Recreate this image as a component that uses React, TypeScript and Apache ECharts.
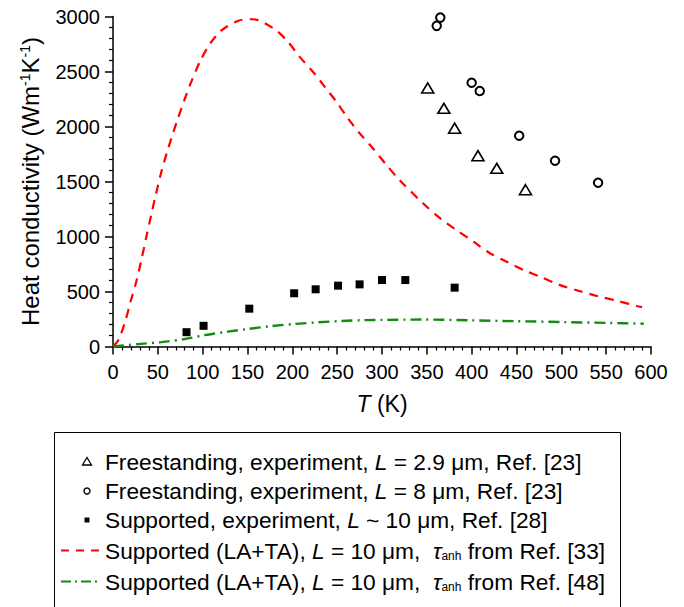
import React, { useEffect, useRef } from "react";
import * as echarts from "echarts";

// ---- Data ----
const triT = [351, 369, 381, 407, 428, 460];
const triK = [2350, 2165, 1985, 1735, 1620, 1425];

const circT = [365, 361, 400, 409, 453, 493, 541];
const circK = [2990, 2915, 2398, 2323, 1916, 1689, 1489];

const sqT = [82, 101, 152, 202, 226, 251, 275, 300, 326, 381];
const sqK = [130, 188, 344, 484, 520, 553, 565, 604, 604, 535];

const redT = [0, 6, 13, 20, 26, 32, 37, 43, 48, 54, 60, 65, 71, 80, 86, 97, 108, 121, 140, 156, 179, 195, 208, 223, 236, 249, 262, 275, 290, 305, 320, 346, 365, 383, 402, 420, 439, 458, 478, 498, 519, 540, 562, 584, 590];
const redK = [0, 60, 211, 420, 590, 800, 990, 1210, 1390, 1590, 1760, 1890, 2040, 2250, 2380, 2590, 2750, 2873, 2962, 2975, 2892, 2771, 2635, 2498, 2362, 2226, 2074, 1938, 1800, 1650, 1510, 1300, 1165, 1059, 953, 850, 771, 695, 629, 560, 507, 459, 416, 368, 358];

const greenT = [0, 28, 54, 80, 102, 128, 151, 177, 203, 229, 255, 281, 300, 346, 398, 450, 502, 554, 592];
const greenK = [0, 22, 40, 68, 103, 135, 160, 186, 205, 220, 232, 240, 242, 245, 238, 230, 222, 214, 207];

const xMin = 0, xMax = 600, xStep = 50;
const yMin = 0, yMax = 3000, yStep = 500;

const xName = "{i|T} (K)";
const yName = "Heat conductivity (Wm{sup|-1}K{sup|-1})";

const legendLabels = [
  "Freestanding, experiment, {i|L} = 2.9 μm, Ref. [23]",
  "Freestanding, experiment, {i|L} = 8 μm, Ref. [23]",
  "Supported, experiment, {i|L} ~ 10 μm, Ref. [28]",
  "Supported (LA+TA), {i|L} = 10 μm,  {t|τ}{s|anh} from Ref. [33]",
  "Supported (LA+TA), {i|L} = 10 μm,  {t|τ}{s|anh} from Ref. [48]",
];

const FONT = "'Liberation Sans', Arial, sans-serif";
const GREEN = "#148a14";
const RED = "#ff0000";

const zip = (a: number[], b: number[]) => a.map((v, i) => [v, b[i]]);

export default function App() {
  const ref = useRef<HTMLDivElement>(null);

  useEffect(() => {
    if (!ref.current) return;
    const chart = echarts.init(ref.current, undefined, { renderer: "svg" });

    const rowY = [461.5, 491, 520, 550.5, 581.5];
    const legendFontSize = 22.7;
    const rich = {
      i: { fontStyle: "italic", fontSize: legendFontSize, fontFamily: FONT, fill: "#000" },
      t: { fontStyle: "italic", fontSize: legendFontSize, fontFamily: FONT, fill: "#000" },
      s: { fontSize: 12, fontFamily: FONT, fill: "#000", verticalAlign: "bottom", lineHeight: 22 },
    };

    const legendGraphics: any[] = [
      {
        type: "rect",
        shape: { x: 54.5, y: 432.5, width: 566, height: 200 },
        style: { fill: "none", stroke: "#000", lineWidth: 1 },
      },
      {
        type: "polygon",
        shape: { points: [[87, rowY[0] - 4], [91.5, rowY[0] + 3.5], [82.5, rowY[0] + 3.5]] },
        style: { fill: "none", stroke: "#000", lineWidth: 1.3 },
      },
      {
        type: "circle",
        shape: { cx: 87, cy: rowY[1], r: 3 },
        style: { fill: "none", stroke: "#000", lineWidth: 1.4 },
      },
      {
        type: "rect",
        shape: { x: 84.5, y: rowY[2] - 2.5, width: 5, height: 5 },
        style: { fill: "#000" },
      },
      {
        type: "line",
        shape: { x1: 61, y1: rowY[3], x2: 100, y2: rowY[3] },
        style: { stroke: RED, lineWidth: 2, lineDash: [8, 7] },
      },
      {
        type: "line",
        shape: { x1: 61, y1: rowY[4], x2: 100, y2: rowY[4] },
        style: { stroke: GREEN, lineWidth: 2, lineDash: [10, 4, 2, 4] },
      },
      ...legendLabels.map((txt, i) => ({
        type: "text",
        x: 105,
        y: rowY[i],
        style: {
          text: txt,
          fontSize: legendFontSize,
          fontFamily: FONT,
          fill: "#000",
          align: "left",
          verticalAlign: "middle",
          rich,
        },
      })),
    ];

    const axisCommon = {
      type: "value" as const,
      axisLine: { show: true, onZero: false, lineStyle: { color: "#000", width: 1.5 } },
      axisTick: { show: true, inside: false, length: 8, lineStyle: { color: "#000", width: 1.5 } },
      minorTick: { show: true, splitNumber: 5, length: 4, lineStyle: { color: "#000", width: 1.2 } },
      splitLine: { show: false },
      minorSplitLine: { show: false },
    };

    const option: any = {
      animation: false,
      backgroundColor: "#fff",
      grid: { left: 113, right: 33, top: 16.5, bottom: 260.5, containLabel: false },
      xAxis: {
        ...axisCommon,
        min: xMin,
        max: xMax,
        interval: xStep,
        axisLabel: { color: "#000", fontSize: 20, fontFamily: FONT, margin: 15, formatter: (v: number) => String(v) },
        name: xName,
        nameLocation: "middle",
        nameGap: 46,
        nameTextStyle: {
          color: "#000",
          fontSize: 23,
          fontFamily: FONT,
          rich: { i: { fontStyle: "italic", fontSize: 23, fontFamily: FONT, color: "#000" } },
        },
      },
      yAxis: {
        ...axisCommon,
        min: yMin,
        max: yMax,
        interval: yStep,
        axisLabel: { color: "#000", fontSize: 20, fontFamily: FONT, margin: 13, formatter: (v: number) => String(v) },
        name: yName,
        nameLocation: "middle",
        nameRotate: 90,
        nameGap: 71,
        nameTextStyle: {
          color: "#000",
          fontSize: 24,
          fontFamily: FONT,
          rich: { sup: { fontSize: 14, fontFamily: FONT, color: "#000", verticalAlign: "top" } },
        },
      },
      series: [
        {
          type: "line",
          data: zip(redT, redK),
          smooth: 0.3,
          showSymbol: false,
          symbol: "none",
          lineStyle: { color: RED, width: 2.2, type: [9, 7] },
          silent: true,
          z: 2,
        },
        {
          type: "line",
          data: zip(greenT, greenK),
          smooth: 0.3,
          showSymbol: false,
          symbol: "none",
          lineStyle: { color: GREEN, width: 2.4, type: [11, 5, 2, 5] },
          silent: true,
          z: 2,
        },
        {
          type: "scatter",
          data: zip(triT, triK),
          symbol: "triangle",
          symbolSize: [12, 10],
          itemStyle: { color: "rgba(0,0,0,0)", borderColor: "#000", borderWidth: 1.6, opacity: 1 },
          silent: true,
          z: 3,
        },
        {
          type: "scatter",
          data: zip(circT, circK),
          symbol: "circle",
          symbolSize: 8.5,
          itemStyle: { color: "rgba(0,0,0,0)", borderColor: "#000", borderWidth: 2, opacity: 1 },
          silent: true,
          z: 3,
        },
        {
          type: "scatter",
          data: zip(sqT, sqK),
          symbol: "rect",
          symbolSize: 8,
          itemStyle: { color: "#000", opacity: 1 },
          silent: true,
          z: 3,
        },
      ],
      graphic: legendGraphics,
    };

    chart.setOption(option);
    return () => chart.dispose();
  }, []);

  return (
    <div
      ref={ref}
      style={{ position: "fixed", left: 0, top: 0, width: 684, height: 607, background: "#fff" }}
    />
  );
}
